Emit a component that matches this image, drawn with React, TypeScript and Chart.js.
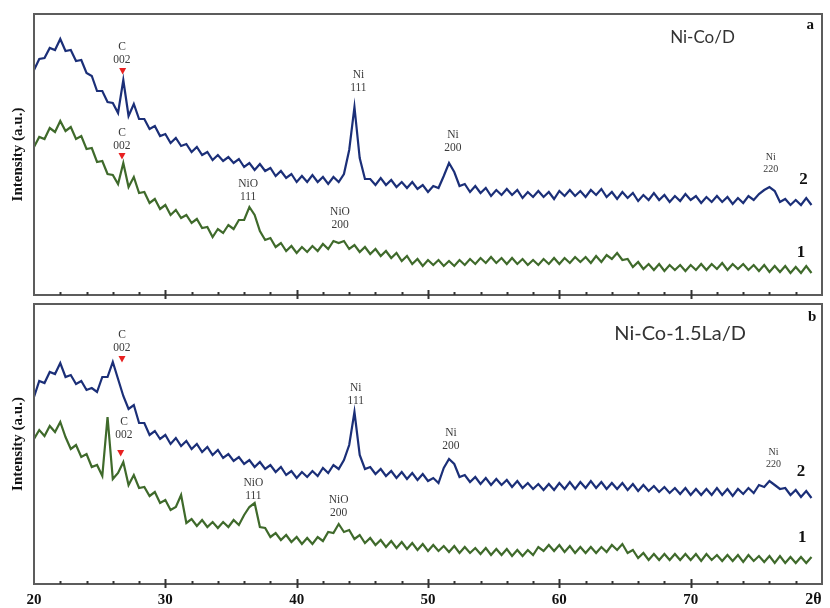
import { useEffect, useRef } from "react";
import { Chart, registerables } from "chart.js";

Chart.register(...registerables);

// 2θ sampling grid: first angle and step (degrees)
const TWO_THETA_START = 20;
const TWO_THETA_STEP = 0.4;
const X_MIN = 20;
const X_MAX = 80;
const X_AXIS_NAME = "2θ";
const Y_TITLE = "Intensity (a.u.)";

// Panel a (Ni-Co/D) — curve 2 (blue) and curve 1 (green), intensity in a.u.
const A_CURVE2 = [
  223, 234, 235, 245, 243, 254, 242, 243, 232, 233,
  220, 217, 202, 202, 191, 190, 180, 213, 177, 189,
  174, 174, 164, 167, 157, 159, 150, 155, 147, 149,
  141, 146, 138, 141, 133, 138, 132, 136, 130, 134,
  126, 130, 123, 129, 122, 125, 117, 122, 115, 119,
  111, 117, 111, 118, 111, 116, 109, 116, 111, 119,
  143, 186, 135, 114, 114, 108, 115, 108, 113, 106,
  111, 105, 111, 104, 108, 101, 107, 105, 117, 130,
  121, 107, 109, 101, 107, 100, 105, 97, 103, 98,
  104, 98, 103, 95, 101, 96, 102, 96, 101, 94,
  102, 97, 103, 97, 102, 96, 103, 98, 104, 96,
  101, 94, 101, 95, 100, 92, 98, 93, 100, 93,
  98, 91, 97, 92, 99, 93, 97, 90, 96, 91,
  97, 91, 96, 89, 95, 90, 97, 93, 99, 103,
  106, 102, 91, 94, 88, 93, 88, 95, 88,
];
const A_CURVE1 = [
  146, 156, 154, 165, 161, 172, 162, 166, 154, 157,
  144, 145, 131, 132, 119, 118, 109, 130, 106, 116,
  100, 101, 90, 94, 84, 88, 78, 83, 75, 78,
  70, 74, 65, 66, 56, 64, 60, 68, 64, 73,
  73, 86, 78, 62, 53, 55, 46, 50, 42, 47,
  40, 46, 41, 47, 42, 49, 44, 52, 50, 52,
  44, 48, 41, 46, 39, 44, 37, 42, 35, 40,
  32, 37, 29, 34, 27, 33, 28, 33, 27, 32,
  27, 33, 28, 34, 29, 35, 30, 36, 30, 35,
  29, 35, 29, 34, 28, 33, 28, 34, 29, 35,
  29, 35, 30, 36, 31, 36, 30, 37, 31, 38,
  34, 40, 33, 34, 26, 31, 24, 29, 23, 29,
  22, 28, 23, 28, 22, 28, 23, 29, 23, 29,
  24, 30, 23, 29, 24, 29, 23, 28, 22, 28,
  21, 27, 21, 27, 20, 26, 20, 27, 20,
];

// Panel b (Ni-Co-1.5La/D)
const B_CURVE2 = [
  188, 204, 202, 213, 211, 222, 208, 210, 201, 204,
  195, 197, 193, 208, 208, 223, 206, 189, 176, 180,
  162, 162, 150, 154, 146, 150, 141, 147, 139, 144,
  136, 141, 133, 138, 130, 135, 127, 131, 124, 128,
  121, 125, 118, 123, 116, 120, 113, 118, 110, 114,
  107, 113, 108, 114, 109, 117, 112, 120, 116, 125,
  140, 173, 130, 116, 118, 111, 116, 109, 114, 107,
  113, 106, 112, 105, 111, 104, 107, 102, 117, 126,
  121, 108, 110, 103, 108, 101, 107, 100, 106, 100,
  105, 98, 104, 97, 102, 96, 101, 95, 101, 95,
  102, 96, 103, 96, 103, 97, 104, 97, 103, 96,
  102, 96, 102, 95, 101, 94, 100, 94, 99, 93,
  98, 92, 97, 91, 97, 90, 96, 90, 96, 90,
  97, 90, 96, 89, 96, 91, 97, 92, 100, 98,
  104, 100, 96, 97, 90, 95, 88, 94, 87,
];
const B_CURVE1 = [
  146, 155, 149, 159, 153, 163, 148, 136, 140, 128,
  131, 118, 120, 109, 168, 106, 112, 123, 100, 110,
  97, 98, 89, 93, 82, 85, 75, 78, 90, 62,
  66, 59, 65, 58, 63, 57, 63, 58, 65, 60,
  70, 78, 82, 58, 57, 48, 52, 45, 50, 43,
  48, 41, 47, 41, 48, 44, 53, 52, 61, 53,
  55, 46, 50, 42, 47, 40, 45, 38, 44, 37,
  43, 36, 42, 35, 41, 34, 40, 34, 39, 33,
  39, 32, 38, 32, 37, 31, 37, 30, 36, 30,
  36, 29, 35, 29, 35, 30, 38, 34, 40, 34,
  40, 33, 39, 32, 38, 32, 38, 32, 38, 33,
  40, 35, 41, 32, 35, 27, 32, 25, 31, 25,
  31, 25, 31, 25, 31, 25, 31, 24, 31, 25,
  30, 24, 30, 24, 30, 23, 30, 24, 29, 23,
  29, 22, 29, 22, 28, 22, 28, 22, 28,
];

type PeakLabel = { lines: [string, string]; x: number; y: number; markerX?: number; markerY?: number; small?: boolean };
type FreeText = { text: string; x: number; y: number; kind: "num" | "panel" | "title" | "titleBig" };

const A_PEAKS: PeakLabel[] = [
  { lines: ["C", "002"], x: 26.7, y: 246, markerX: 26.75, markerY: 222 },
  { lines: ["C", "002"], x: 26.7, y: 160, markerX: 26.7, markerY: 137 },
  { lines: ["NiO", "111"], x: 36.3, y: 109 },
  { lines: ["Ni", "111"], x: 44.7, y: 218 },
  { lines: ["Ni", "200"], x: 51.9, y: 158 },
  { lines: ["NiO", "200"], x: 43.3, y: 81 },
  { lines: ["Ni", "220"], x: 76.1, y: 136, small: true },
];
const B_PEAKS: PeakLabel[] = [
  { lines: ["C", "002"], x: 26.7, y: 250, markerX: 26.7, markerY: 226 },
  { lines: ["C", "002"], x: 26.85, y: 163, markerX: 26.6, markerY: 132 },
  { lines: ["NiO", "111"], x: 36.7, y: 102 },
  { lines: ["Ni", "111"], x: 44.5, y: 197 },
  { lines: ["Ni", "200"], x: 51.75, y: 152 },
  { lines: ["NiO", "200"], x: 43.2, y: 85 },
  { lines: ["Ni", "220"], x: 76.3, y: 133, small: true },
];
const A_TEXTS: FreeText[] = [
  { text: "2", x: 78.6, y: 113, kind: "num" },
  { text: "1", x: 78.4, y: 40, kind: "num" },
  { text: "a", x: 79.1, y: 268, kind: "panel" },
  { text: "Ni-Co/D", x: 70.9, y: 255, kind: "title" },
];
const B_TEXTS: FreeText[] = [
  { text: "2", x: 78.4, y: 113, kind: "num" },
  { text: "1", x: 78.5, y: 47, kind: "num" },
  { text: "b", x: 79.25, y: 268, kind: "panel" },
  { text: "Ni-Co-1.5La/D", x: 69.2, y: 251, kind: "titleBig" },
];

const BLUE = "#1b2f78";
const GREEN = "#3f6a2b";
const RED = "#e82020";
const FRAME = "#5c5c5c";
const SERIF = '"Liberation Serif", "DejaVu Serif", serif';

function toPoints(values: number[]) {
  return values.map((v, i) => ({ x: TWO_THETA_START + i * TWO_THETA_STEP, y: v }));
}

type Panel = {
  curve1: number[];
  curve2: number[];
  peaks: PeakLabel[];
  texts: FreeText[];
  yMin: number;
  yMax: number;
  padTop: number;
  padBottom: number;
  showX: boolean;
};

function decorPlugin(p: Panel) {
  return {
    id: "xrdDecor",
    afterDatasetsDraw(chart: any) {
      const { ctx, chartArea: ca, scales } = chart;
      const xs = scales.x;
      const ys = scales.y;
      ctx.save();
      // frame
      ctx.strokeStyle = FRAME;
      ctx.lineWidth = 2;
      ctx.strokeRect(ca.left, ca.top, ca.right - ca.left, ca.bottom - ca.top);
      // tick marks on the bottom axis
      ctx.strokeStyle = "#333";
      for (let v = X_MIN + 2; v < X_MAX; v += 2) {
        const px = Math.round(xs.getPixelForValue(v)) + 0.5;
        ctx.beginPath();
        ctx.lineWidth = 2;
        if (v % 10 === 0) {
          ctx.moveTo(px, ca.bottom - 5);
          ctx.lineTo(px, ca.bottom + 4);
        } else {
          ctx.moveTo(px, ca.bottom - 3);
          ctx.lineTo(px, ca.bottom);
        }
        ctx.stroke();
      }
      // peak labels
      ctx.textAlign = "center";
      ctx.textBaseline = "middle";
      for (const l of p.peaks) {
        const px = xs.getPixelForValue(l.x);
        const py = ys.getPixelForValue(l.y);
        ctx.fillStyle = "#3a3a3a";
        ctx.font = `${l.small ? 10 : 11.5}px ${SERIF}`;
        ctx.fillText(l.lines[0], px, py);
        ctx.fillText(l.lines[1], px, py + (l.small ? 12 : 12.5));
        if (l.markerY !== undefined) {
          const mx = xs.getPixelForValue(l.markerX ?? l.x);
          const my = ys.getPixelForValue(l.markerY);
          ctx.fillStyle = RED;
          ctx.beginPath();
          ctx.moveTo(mx - 3.5, my - 3);
          ctx.lineTo(mx + 3.5, my - 3);
          ctx.lineTo(mx, my + 3.5);
          ctx.closePath();
          ctx.fill();
        }
      }
      // free texts
      for (const t of p.texts) {
        const px = xs.getPixelForValue(t.x);
        const py = ys.getPixelForValue(t.y);
        if (t.kind === "num") {
          ctx.font = `bold 17px ${SERIF}`;
          ctx.fillStyle = "#111";
        } else if (t.kind === "panel") {
          ctx.font = `bold 15px ${SERIF}`;
          ctx.fillStyle = "#111";
        } else if (t.kind === "title") {
          ctx.font = `17px Lato, "Open Sans", sans-serif`;
          ctx.fillStyle = "#333";
        } else {
          ctx.font = `20px Lato, "Open Sans", sans-serif`;
          ctx.fillStyle = "#333";
        }
        ctx.fillText(t.text, px, py);
      }
      if (p.showX) {
        ctx.font = `bold 16px ${SERIF}`;
        ctx.fillStyle = "#111";
        ctx.fillText(X_AXIS_NAME, xs.getPixelForValue(79.35), ca.bottom + 16);
      }
      ctx.restore();
    },
  };
}

function makeConfig(p: Panel): any {
  return {
    type: "line",
    data: {
      datasets: [
        {
          label: "1",
          data: toPoints(p.curve1),
          borderColor: GREEN,
          borderWidth: 2.2,
          pointRadius: 0,
          tension: 0,
        },
        {
          label: "2",
          data: toPoints(p.curve2),
          borderColor: BLUE,
          borderWidth: 2.2,
          pointRadius: 0,
          tension: 0,
        },
      ],
    },
    options: {
      responsive: false,
      animation: false,
      devicePixelRatio: 1,
      events: [],
      layout: { padding: { top: p.padTop, right: 8, bottom: p.padBottom, left: 0 } },
      plugins: { legend: { display: false }, tooltip: { enabled: false } },
      scales: {
        x: {
          type: "linear",
          min: X_MIN,
          max: X_MAX,
          display: p.showX,
          grid: { display: false, drawTicks: false },
          border: { display: false },
          ticks: {
            stepSize: 10,
            padding: 7,
            color: "#111",
            maxRotation: 0,
            autoSkip: false,
            font: { family: SERIF, size: 15, weight: "bold" },
            callback: (v: number) => (v === X_MAX ? "" : String(v)),
          },
          afterFit: (s: any) => {
            s.height = p.showX ? 24 : 0;
          },
        },
        y: {
          type: "linear",
          min: p.yMin,
          max: p.yMax,
          display: true,
          grid: { display: false, drawTicks: false },
          border: { display: false },
          ticks: { display: false },
          title: {
            display: true,
            text: Y_TITLE,
            color: "#111",
            font: { family: SERIF, size: 15, weight: "bold" },
            padding: { top: 9, bottom: 0 },
          },
          afterFit: (s: any) => {
            s.width = 34;
          },
        },
      },
    },
    plugins: [decorPlugin(p)],
  };
}

export default function App() {
  const refA = useRef<HTMLCanvasElement>(null);
  const refB = useRef<HTMLCanvasElement>(null);
  useEffect(() => {
    const a = new Chart(
      refA.current!,
      makeConfig({
        curve1: A_CURVE1,
        curve2: A_CURVE2,
        peaks: A_PEAKS,
        texts: A_TEXTS,
        yMin: -2,
        yMax: 279,
        padTop: 14,
        padBottom: 5,
        showX: false,
      })
    );
    const b = new Chart(
      refB.current!,
      makeConfig({
        curve1: B_CURVE1,
        curve2: B_CURVE2,
        peaks: B_PEAKS,
        texts: B_TEXTS,
        yMin: 1,
        yMax: 281,
        padTop: 4,
        padBottom: 0,
        showX: true,
      })
    );
    return () => {
      a.destroy();
      b.destroy();
    };
  }, []);
  return (
    <div style={{ position: "absolute", left: 0, top: 0, width: 830, height: 608, background: "#fff" }}>
      <canvas ref={refA} width={830} height={300} style={{ position: "absolute", left: 0, top: 0 }} />
      <canvas ref={refB} width={830} height={308} style={{ position: "absolute", left: 0, top: 300 }} />
    </div>
  );
}
